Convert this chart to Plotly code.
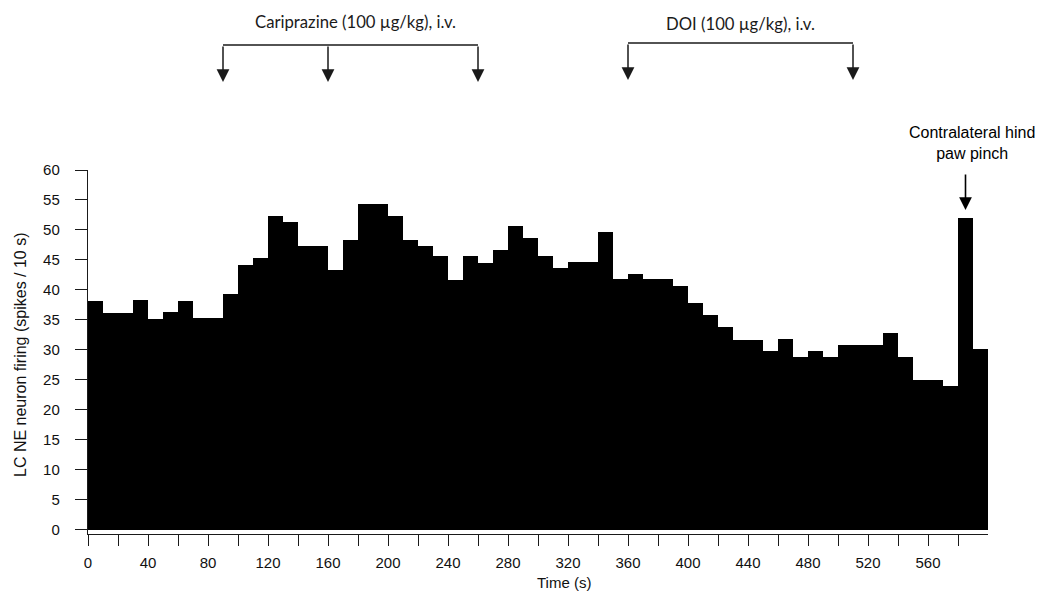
import plotly.graph_objects as go

# Firing-rate histogram: 10-s bins, spikes per bin
bin_start_s = list(range(0, 600, 10))
bin_width_s = 10
spikes_per_bin = [
    38.2, 36.1, 36.1, 38.3, 35.2, 36.3, 38.1, 35.3, 35.3, 39.3,
    44.2, 45.4, 52.3, 51.3, 47.3, 47.3, 43.4, 48.3, 54.4, 54.4,
    52.4, 48.4, 47.4, 45.7, 41.6, 45.6, 44.5, 46.6, 50.6, 48.6,
    45.7, 43.6, 44.6, 44.6, 49.7, 41.8, 42.7, 41.8, 41.8, 40.6,
    37.8, 35.8, 33.8, 31.7, 31.7, 29.8, 31.8, 28.9, 29.9, 28.9,
    30.9, 30.9, 30.9, 32.9, 28.9, 25.0, 25.0, 24.0, 52.0, 30.1,
]

# Injection times (s)
cariprazine_times = [90, 160, 260]
doi_times = [360, 510]
pinch_time = 585

x_tickvals = list(range(0, 600, 20))
x_ticklabels = [str(v) if v % 40 == 0 else "" for v in x_tickvals]
y_tickvals = list(range(0, 65, 5))

W, H = 1040, 598
M_L, M_R, M_T, M_B = 88, 52, 170, 64
plot_h = H - M_T - M_B
plot_w = W - M_L - M_R


def py(pixel_y):
    """Convert a pixel row on the page to paper y."""
    return (H - M_B - pixel_y) / plot_h


def px(pixel_x):
    return (pixel_x - M_L) / plot_w


centers = [s + bin_width_s / 2 for s in bin_start_s]

fig = go.Figure(
    go.Bar(
        x=centers,
        y=spikes_per_bin,
        width=bin_width_s,
        marker=dict(color="#000000", line=dict(width=0)),
        hoverinfo="skip",
    )
)

axis_font = dict(family="Liberation Sans, Arial, sans-serif", size=15, color="#111111")
label_font = dict(family="Lato, Calibri, sans-serif", size=16.7, color="#1a1a1a")

shapes = []
annotations = []


def bracket(times, line_px, tip_px, text, text_px_y, text_x):
    shapes.append(dict(
        type="line", xref="x", yref="paper",
        x0=min(times), x1=max(times), y0=py(line_px), y1=py(line_px),
        line=dict(color="#1a1a1a", width=1.6),
    ))
    for t in times:
        annotations.append(dict(
            x=t, y=py(tip_px), xref="x", yref="paper", text="",
            showarrow=True, ax=0, ay=-(tip_px - line_px),
            arrowhead=2, arrowsize=1.7, arrowwidth=1.5, arrowcolor="#1a1a1a",
        ))
    annotations.append(dict(
        x=text_x, y=py(text_px_y), xref="x", yref="paper", text=text,
        showarrow=False, xanchor="center", yanchor="middle", font=label_font,
    ))


bracket(cariprazine_times, 45, 82, "Cariprazine (100 µg/kg), i.v.", 22, 178)
bracket(doi_times, 43, 80, "DOI (100 µg/kg), i.v.", 24, 435)

# Paw pinch marker
annotations.append(dict(
    x=pinch_time, y=py(210), xref="x", yref="paper", text="",
    showarrow=True, ax=0, ay=-37,
    arrowhead=2, arrowsize=1.6, arrowwidth=1.6, arrowcolor="#000000",
))
annotations.append(dict(
    x=pinch_time + 4, y=py(143), xref="x", yref="paper",
    text="Contralateral hind<br>paw pinch", showarrow=False,
    xanchor="center", yanchor="middle",
    font=dict(family="Liberation Sans, Arial, sans-serif", size=16, color="#000000"),
))

# Axis titles
annotations.append(dict(
    x=px(564), y=py(582), xref="paper", yref="paper", text="Time (s)",
    showarrow=False, xanchor="center", yanchor="middle",
    font=dict(family="Liberation Sans, Arial, sans-serif", size=15, color="#111111"),
))
annotations.append(dict(
    x=px(20), y=py(355), xref="paper", yref="paper",
    text="LC NE neuron firing (spikes / 10 s)", textangle=-90,
    showarrow=False, xanchor="center", yanchor="middle",
    font=dict(family="Liberation Sans, Arial, sans-serif", size=16, color="#111111"),
))

fig.update_layout(
    width=W, height=H,
    margin=dict(l=M_L, r=M_R, t=M_T, b=M_B, pad=0),
    paper_bgcolor="#ffffff", plot_bgcolor="#ffffff",
    bargap=0, showlegend=False,
    shapes=shapes, annotations=annotations,
    xaxis=dict(
        range=[0, 600], tickmode="array", tickvals=x_tickvals, ticktext=x_ticklabels,
        ticks="outside", ticklen=11, tickwidth=1.4, tickcolor="#1a1a1a",
        showline=True, linecolor="#1a1a1a", linewidth=1.4,
        showgrid=False, zeroline=False, tickfont=axis_font, ticklabelstandoff=4,
    ),
    yaxis=dict(
        range=[-0.7, 60], tickmode="array", tickvals=y_tickvals,
        ticks="outside", ticklen=12, tickwidth=1.4, tickcolor="#1a1a1a",
        showline=True, linecolor="#1a1a1a", linewidth=1.4,
        showgrid=False, zeroline=False, tickfont=axis_font, ticklabelstandoff=12,
    ),
)

fig.write_html("out.html")
